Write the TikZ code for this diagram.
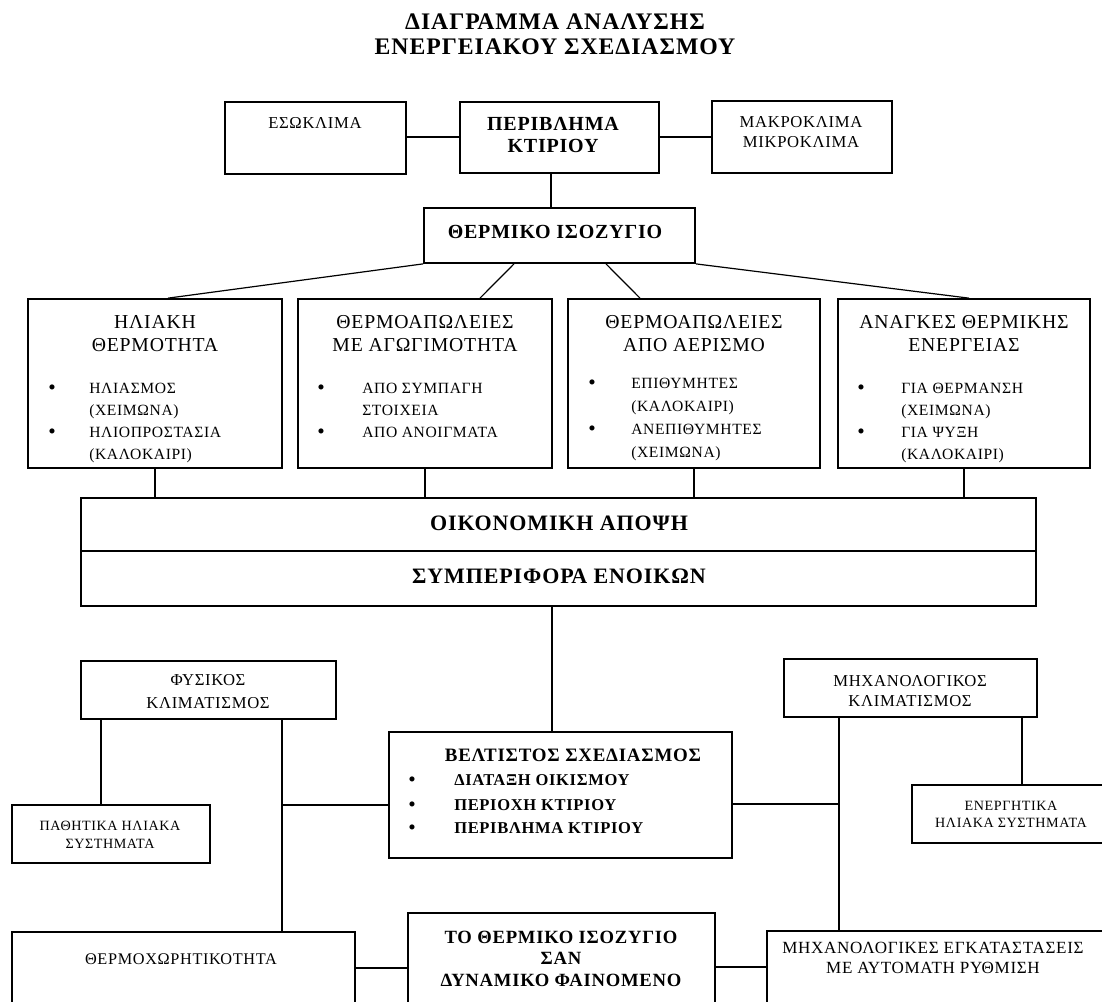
\documentclass[tikz,border=0pt]{standalone}
\usepackage{fontspec}
\setmainfont{Liberation Serif}[LetterSpace=4]
\usetikzlibrary{fit}
\begin{document}
\begin{tikzpicture}[x=0.75pt,y=-0.75pt,
  box/.style={draw, line width=1.3pt, inner sep=0pt, rectangle},
  link/.style={line width=0.9pt},
  t/.style={inner sep=0pt, anchor=base},
  tl/.style={inner sep=0pt, anchor=base west},
  ttl/.style={t, font=\fontsize{17.8}{20}\selectfont\bfseries},
  sm/.style={t, font=\fontsize{12.5}{15}\selectfont},
  bb/.style={t, font=\fontsize{15}{18}\selectfont\bfseries},
  big/.style={t, font=\fontsize{16.5}{19}\selectfont\bfseries},
  hd/.style={t, font=\fontsize{14.8}{16}\selectfont},
  it/.style={tl, font=\fontsize{11.7}{13}\selectfont},
  dot/.style={t, font=\fontsize{16}{16}\selectfont},
  sml/.style={t, font=\fontsize{10.6}{13}\selectfont},
  bhd/.style={t, font=\fontsize{14.2}{17}\selectfont\bfseries},
  bit/.style={tl, font=\fontsize{12.4}{15}\selectfont\bfseries},
  bdot/.style={t, font=\fontsize{16}{16}\selectfont},
  bdyn/.style={t, font=\fontsize{14}{16}\selectfont\bfseries}
]
\useasboundingbox (0,0) rectangle (1102,1001);
\clip (0,0) rectangle (1102,1001);

% title
\node[ttl] (ti1) at (555,29) {ΔΙΑΓΡΑΜΜΑ ΑΝΑΛΥΣΗΣ};
\node[ttl] (ti2) at (555,54) {ΕΝΕΡΓΕΙΑΚΟΥ ΣΧΕΔΙΑΣΜΟΥ};

% top row
\node[box, fit={(225,102) (406,174)}] (esw) {};
\node[sm] (eswt) at (315,128) {ΕΣΩΚΛΙΜΑ};
\node[box, fit={(460,102) (659,173)}] (per) {};
\node[bb] (pert1) at (553,130) {ΠΕΡΙΒΛΗΜΑ};
\node[bb] (pert2) at (553,152) {ΚΤΙΡΙΟΥ};
\node[box, fit={(712,101) (892,173)}] (mak) {};
\node[sm] (makt1) at (801,127) {ΜΑΚΡΟΚΛΙΜΑ};
\node[sm] (makt2) at (801,147) {ΜΙΚΡΟΚΛΙΜΑ};

\draw[link] (esw.east |- 0,137) -- (per.west |- 0,137);
\draw[link] (per.east |- 0,137) -- (mak.west |- 0,137);

% thermal balance
\node[box, fit={(424,208) (695,263)}] (thb) {};
\node[bb] (thbt) at (555,238) {ΘΕΡΜΙΚΟ ΙΣΟΖΥΓΙΟ};
\draw[link] (551,0 |- per.south) -- (551,0 |- thb.north);

% row 2
\node[box, fit={(28,299) (282,468)}] (b1) {};
\node[box, fit={(298,299) (552,468)}] (b2) {};
\node[box, fit={(568,299) (820,468)}] (b3) {};
\node[box, fit={(838,299) (1090,468)}] (b4) {};

\draw[link] (thb.south west) -- (168,0 |- b1.north);
\draw[link] (514,0 |- thb.south) -- (480,0 |- b2.north);
\draw[link] (606,0 |- thb.south) -- (640,0 |- b3.north);
\draw[link] (thb.south east) -- (969,0 |- b4.north);

% box 1
\node[hd] (b1h1) at (155,328) {ΗΛΙΑΚΗ};
\node[hd] (b1h2) at (155,351) {ΘΕΡΜΟΤΗΤΑ};
\node[dot] (b1d1) at (52,394) {•};
\node[it] (b1i1) at (89,393) {ΗΛΙΑΣΜΟΣ};
\node[it] (b1i2) at (89,415) {(ΧΕΙΜΩΝΑ)};
\node[dot] (b1d2) at (52,438) {•};
\node[it] (b1i3) at (89,437) {ΗΛΙΟΠΡΟΣΤΑΣΙΑ};
\node[it] (b1i4) at (89,459) {(ΚΑΛΟΚΑΙΡΙ)};

% box 2
\node[hd] (b2h1) at (425,328) {ΘΕΡΜΟΑΠΩΛΕΙΕΣ};
\node[hd] (b2h2) at (425,351) {ΜΕ ΑΓΩΓΙΜΟΤΗΤΑ};
\node[dot] (b2d1) at (321,394) {•};
\node[it] (b2i1) at (362,393) {ΑΠΟ ΣΥΜΠΑΓΗ};
\node[it] (b2i2) at (362,415) {ΣΤΟΙΧΕΙΑ};
\node[dot] (b2d2) at (321,438) {•};
\node[it] (b2i3) at (362,437) {ΑΠΟ ΑΝΟΙΓΜΑΤΑ};

% box 3
\node[hd] (b3h1) at (694,328) {ΘΕΡΜΟΑΠΩΛΕΙΕΣ};
\node[hd] (b3h2) at (694,351) {ΑΠΟ ΑΕΡΙΣΜΟ};
\node[dot] (b3d1) at (592,389) {•};
\node[it] (b3i1) at (631,388) {ΕΠΙΘΥΜΗΤΕΣ};
\node[it] (b3i2) at (631,411) {(ΚΑΛΟΚΑΙΡΙ)};
\node[dot] (b3d2) at (592,435) {•};
\node[it] (b3i3) at (631,434) {ΑΝΕΠΙΘΥΜΗΤΕΣ};
\node[it] (b3i4) at (631,457) {(ΧΕΙΜΩΝΑ)};

% box 4
\node[hd] (b4h1) at (964,328) {ΑΝΑΓΚΕΣ ΘΕΡΜΙΚΗΣ};
\node[hd] (b4h2) at (964,351) {ΕΝΕΡΓΕΙΑΣ};
\node[dot] (b4d1) at (861,394) {•};
\node[it] (b4i1) at (901,393) {ΓΙΑ ΘΕΡΜΑΝΣΗ};
\node[it] (b4i2) at (901,415) {(ΧΕΙΜΩΝΑ)};
\node[dot] (b4d2) at (861,438) {•};
\node[it] (b4i3) at (901,437) {ΓΙΑ ΨΥΞΗ};
\node[it] (b4i4) at (901,459) {(ΚΑΛΟΚΑΙΡΙ)};

% economy / behaviour
\node[box, fit={(81,498) (1036,551)}] (oik) {};
\node[box, fit={(81,551) (1036,606)}] (sym) {};
\node[big] (oikt) at (559,530) {ΟΙΚΟΝΟΜΙΚΗ ΑΠΟΨΗ};
\node[big] (symt) at (559,583) {ΣΥΜΠΕΡΙΦΟΡΑ ΕΝΟΙΚΩΝ};

\draw[link] (b1.south) -- (b1.south |- oik.north);
\draw[link] (b2.south) -- (b2.south |- oik.north);
\draw[link] (b3.south) -- (b3.south |- oik.north);
\draw[link] (b4.south) -- (b4.south |- oik.north);

% optimum design
\node[box, fit={(389,732) (732,858)}] (bel) {};
\node[bhd] (belh) at (573,761) {ΒΕΛΤΙΣΤΟΣ ΣΧΕΔΙΑΣΜΟΣ};
\node[bdot] (beld1) at (412,786) {•};
\node[bit] (beli1) at (454,785) {ΔΙΑΤΑΞΗ ΟΙΚΙΣΜΟΥ};
\node[bdot] (beld2) at (412,811) {•};
\node[bit] (beli2) at (454,810) {ΠΕΡΙΟΧΗ ΚΤΙΡΙΟΥ};
\node[bdot] (beld3) at (412,834) {•};
\node[bit] (beli3) at (454,833) {ΠΕΡΙΒΛΗΜΑ ΚΤΙΡΙΟΥ};
\draw[link] (552,0 |- sym.south) -- (552,0 |- bel.north);

% natural conditioning
\node[box, fit={(81,661) (336,719)}] (fys) {};
\node[sm] (fyst1) at (208,685) {ΦΥΣΙΚΟΣ};
\node[sm] (fyst2) at (208,708) {ΚΛΙΜΑΤΙΣΜΟΣ};

\node[box, fit={(12,805) (210,863)}] (pas) {};
\node[sml] (past1) at (110,830) {ΠΑΘΗΤΙΚΑ ΗΛΙΑΚΑ};
\node[sml] (past2) at (110,848) {ΣΥΣΤΗΜΑΤΑ};

\node[box, fit={(12,932) (355,1030)}] (thx) {};
\node[t, font=\fontsize{12.2}{14}\selectfont] (thxt) at (181,964) {ΘΕΡΜΟΧΩΡΗΤΙΚΟΤΗΤΑ};

\coordinate (jl) at (282,805);
\draw[link] (101,0 |- fys.south) -- (101,0 |- pas.north);
\draw[link] (282,0 |- fys.south) -- (282,0 |- thx.north);
\draw[link] (jl) -- (jl -| bel.west);

% mechanical conditioning
\node[box, fit={(784,659) (1037,717)}] (mix) {};
\node[sm] (mixt1) at (910,686) {ΜΗΧΑΝΟΛΟΓΙΚΟΣ};
\node[sm] (mixt2) at (910,706) {ΚΛΙΜΑΤΙΣΜΟΣ};

\node[box, fit={(912,785) (1115,843)}] (ene) {};
\node[sml] (enet1) at (1011,810) {ΕΝΕΡΓΗΤΙΚΑ};
\node[sml] (enet2) at (1011,827) {ΗΛΙΑΚΑ ΣΥΣΤΗΜΑΤΑ};

\node[box, fit={(767,931) (1115,1030)}] (mxe) {};
\node[t, font=\fontsize{12.8}{15}\selectfont] (mxet1) at (933,953) {ΜΗΧΑΝΟΛΟΓΙΚΕΣ ΕΓΚΑΤΑΣΤΑΣΕΙΣ};
\node[t, font=\fontsize{12.8}{15}\selectfont] (mxet2) at (933,973) {ΜΕ ΑΥΤΟΜΑΤΗ ΡΥΘΜΙΣΗ};

\coordinate (jr) at (839,804);
\draw[link] (839,0 |- mix.south) -- (839,0 |- mxe.north);
\draw[link] (1022,0 |- mix.south) -- (1022,0 |- ene.north);
\draw[link] (bel.east |- jr) -- (jr);

% dynamic phenomenon
\node[box, fit={(408,913) (715,1030)}] (dyn) {};
\node[bdyn] (dynt1) at (561,943) {ΤΟ ΘΕΡΜΙΚΟ ΙΣΟΖΥΓΙΟ};
\node[bdyn] (dynt2) at (561,964) {ΣΑΝ};
\node[bdyn] (dynt3) at (561,986) {ΔΥΝΑΜΙΚΟ ΦΑΙΝΟΜΕΝΟ};

\draw[link] (thx.east |- 0,968) -- (dyn.west |- 0,968);
\draw[link] (dyn.east |- 0,967) -- (mxe.west |- 0,967);
\end{tikzpicture}
\end{document}
